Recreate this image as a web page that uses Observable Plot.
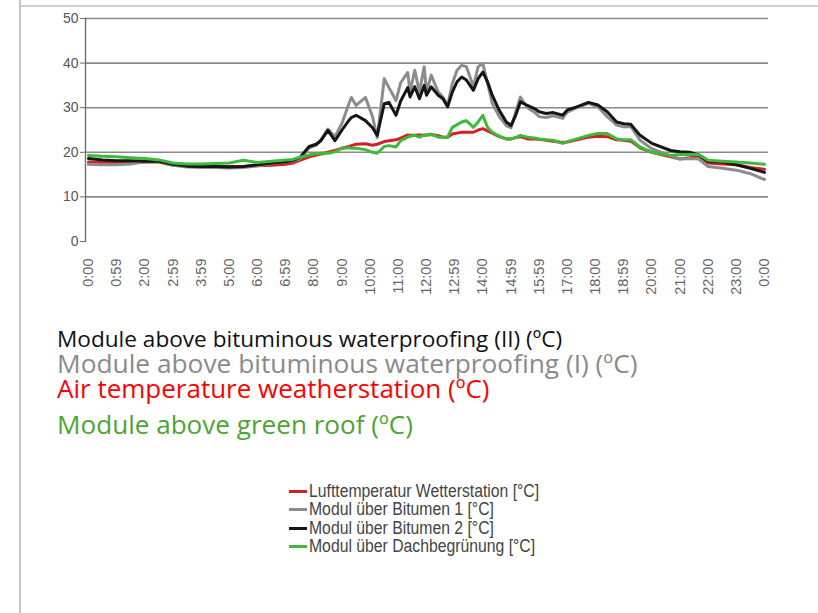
<!DOCTYPE html>
<html>
<head>
<meta charset="utf-8">
<script src="https://cdn.jsdelivr.net/npm/d3@7"></script>
<script src="https://cdn.jsdelivr.net/npm/@observablehq/plot@0.6"></script>
<style>
  html, body { margin: 0; padding: 0; background: #fff; }
  #root { position: relative; width: 818px; height: 613px; overflow: hidden; background: #fff; }
  #frameLeft { position: absolute; left: 19px; top: 0; width: 2px; height: 613px; background: #c4c4c4; }
  #frameTop { position: absolute; left: 20px; top: 5px; right: 0; height: 2px; background: #d0d0d0; }
  #chart { position: absolute; left: 0; top: 0; }
  #labels { position: absolute; left: 57px; top: 326px; font-family: "Open Sans", "Noto Sans", sans-serif; font-size: 26px; }
  #labels div { white-space: nowrap; line-height: 25px; height: 25px; }
  #legend { position: absolute; left: 289px; top: 482px; font-family: "Liberation Sans", Arial, sans-serif; font-size: 18px; color: #444; }
  #legend .row { display: flex; align-items: center; height: 18.5px; white-space: nowrap; }
  #legend .sw { width: 18px; height: 3px; margin-right: 2px; flex: none; }
  #legend .tx { display: inline-block; transform: scaleX(0.875); transform-origin: left center; }
</style>
</head>
<body>
<div id="root">
  <div id="frameLeft"></div>
  <div id="frameTop"></div>
  <div id="chart"></div>
  <div id="labels"></div>
  <div id="legend"></div>
</div>
<script>
// ---- data ----
const times = ["0:00","0:30","1:00","1:30","2:00","2:30","3:00","3:30","4:00","4:30","5:00","5:30","6:00","6:30","7:00",
  "7:15","7:30","7:50","8:05","8:15","8:30","8:45","9:00","9:15","9:20","9:30","9:50",
  "10:05","10:15","10:30","10:40","10:55","11:05","11:20","11:25","11:35","11:45","11:55",
  "12:00","12:10","12:25","12:35","12:45","12:55","13:05","13:15","13:25","13:40","13:50",
  "14:00","14:10","14:20","14:35","14:50","15:00","15:10","15:20","15:35","15:50",
  "16:00","16:15","16:30","16:50","17:00","17:20","17:45","18:05","18:25","18:45",
  "19:00","19:15","19:35","20:00","20:40","21:00","21:20","21:40","22:00","22:30","23:00","23:30","24:00"];

const airTemp = [17.8,17.7,17.7,17.7,17.8,17.8,17.1,16.9,16.9,16.8,16.8,16.8,17.0,17.1,17.3,
  17.6,18.2,19.0,19.4,19.6,20.0,20.4,20.9,21.3,21.5,21.8,21.9,
  21.6,21.8,22.4,22.6,22.8,23.2,23.9,23.8,23.8,23.9,23.8,
  23.9,24.0,23.7,23.4,23.4,24.1,24.3,24.5,24.5,24.5,25.0,
  25.3,24.8,24.3,23.5,23.0,23.0,23.3,23.5,23.0,23.0,
  22.9,22.7,22.5,22.2,22.3,22.8,23.4,23.6,23.5,22.8,
  22.7,22.5,21.0,20.0,19.0,18.5,18.8,19.2,17.6,17.4,17.2,16.6,16.2];

const bitumen1 = [17.3,17.2,17.2,17.4,17.9,17.9,17.1,16.7,16.6,16.6,16.5,16.6,17.0,17.5,17.8,
  18.1,18.5,21.0,21.6,22.8,25.2,23.5,26.5,31.0,32.3,30.5,32.3,
  28.0,23.3,36.5,34.5,31.6,35.6,37.9,33.5,38.4,33.5,39.2,
  33.5,37.3,33.5,32.4,30.5,35.4,38.4,39.5,39.2,34.7,39.2,
  39.9,35.5,31.0,28.0,26.0,25.5,29.0,32.4,30.0,29.0,
  28.0,27.8,28.2,27.6,29.0,30.0,31.0,30.2,28.0,26.1,
  25.7,25.8,22.7,20.8,19.2,18.5,18.6,18.5,16.8,16.4,16.0,15.2,13.9];

const bitumen2 = [18.6,18.3,18.1,18.1,18.0,18.0,17.3,16.9,16.8,16.8,16.7,16.8,17.2,17.6,17.9,
  18.2,18.8,21.3,21.8,22.6,24.9,22.6,25.0,27.2,27.8,28.3,27.1,
  25.5,23.8,30.9,31.2,28.3,31.5,34.5,32.4,34.7,32.0,35.0,
  32.8,34.7,32.8,32.0,30.2,33.5,35.8,36.9,36.2,33.9,36.5,
  38.0,35.8,32.8,29.4,26.8,26.0,28.3,31.3,30.5,29.8,
  29.1,28.7,28.9,28.3,29.5,30.2,31.2,30.6,29.1,26.8,
  26.4,26.3,23.8,22.0,20.4,20.1,20.0,19.4,18.0,17.8,17.2,16.4,15.5];

const greenRoof = [19.3,19.1,19.0,18.8,18.6,18.3,17.6,17.4,17.4,17.5,17.6,18.2,17.7,18.0,18.3,
  18.4,18.9,19.4,19.7,19.8,19.8,20.1,20.9,21.0,20.9,20.9,20.6,
  20.0,19.8,21.3,21.5,21.2,22.6,23.4,23.6,23.8,23.4,23.9,
  23.9,24.1,23.4,23.4,23.4,25.6,26.2,26.8,27.1,25.6,26.8,
  28.3,25.6,24.5,23.6,23.0,23.0,23.3,23.8,23.4,23.2,
  23.0,22.8,22.7,22.0,22.4,23.0,23.8,24.2,24.2,23.0,
  22.8,22.8,21.2,20.0,19.3,19.5,19.5,19.5,18.2,18.0,17.8,17.6,17.3];

const tickLabels = ["0:00","0:59","2:00","2:59","3:59","5:00","6:00","6:59","8:00","9:00","10:00","11:00",
  "12:00","12:59","14:00","14:59","15:59","17:00","18:00","18:59","20:00","21:00","22:00","23:00","0:00"];
const yTicks = [0, 10, 20, 30, 40, 50];

const seriesNames = ["Lufttemperatur Wetterstation [°C]", "Modul über Bitumen 1 [°C]", "Modul über Bitumen 2 [°C]", "Modul über Dachbegrünung [°C]"];
const seriesColors = ["#d81e22", "#8c8c8c", "#151515", "#3cba3c"];

const overlayTexts = ["Module above bituminous waterproofing (II) (ºC)", "Module above bituminous waterproofing (I) (ºC)", "Air temperature weatherstation (ºC)", "Module above green roof (ºC)"];
const overlayColors = ["#111111", "#8a8a8a", "#ff0000", "#4ca532"];
const overlaySizes = [22.6, 26.3, 26, 26.1];

// ---- build ----
const parseHour = s => { const [h, m] = s.split(":").map(Number); return h + m / 60; };
const seriesValues = [airTemp, bitumen1, bitumen2, greenRoof];
const rows = seriesNames.flatMap((name, k) => times.map((t, i) => ({ t: parseHour(t), v: seriesValues[k][i], series: name })));

const chart = Plot.plot({
  width: 818,
  height: 310,
  marginTop: 18,
  marginBottom: 69,
  marginLeft: 85,
  marginRight: 50,
  style: { fontFamily: "'Liberation Sans', Arial, sans-serif", fontSize: "14px", color: "#555", background: "transparent" },
  x: { domain: [-0.107, 24.142], label: null },
  y: { domain: [0, 50], label: null },
  color: { domain: seriesNames, range: seriesColors },
  marks: [
    Plot.ruleY(yTicks.filter(d => d > 0), { stroke: "#8a8a8a", strokeWidth: 1.6 }),
    Plot.frame({ anchor: "left", stroke: "#6e6e6e", strokeWidth: 1.4 }),
    Plot.axisY({ ticks: yTicks, tickSize: 5, tickPadding: 2, label: null, stroke: "#6e6e6e", fontSize: 14 }),
    Plot.axisX({ ticks: d3.range(tickLabels.length), tickFormat: i => tickLabels[i], tickRotate: -90, tickSize: 0, tickPadding: 17, label: null, fontSize: 14.5, fill: "#666" }),
    Plot.lineY(rows, { x: "t", y: "v", z: "series", stroke: "series", strokeWidth: 3, strokeLinejoin: "round", strokeLinecap: "round", curve: "linear" })
  ]
});
document.getElementById("chart").appendChild(chart);

const labels = document.getElementById("labels");
overlayTexts.forEach((txt, i) => {
  const d = document.createElement("div");
  d.textContent = txt;
  d.style.color = overlayColors[i];
  d.style.fontSize = overlaySizes[i] + "px";
  if (i === 3) d.style.marginTop = "11px";
  labels.appendChild(d);
});

const legend = document.getElementById("legend");
seriesNames.forEach((name, i) => {
  const r = document.createElement("div");
  r.className = "row";
  const sw = document.createElement("span");
  sw.className = "sw";
  sw.style.background = seriesColors[i];
  const tx = document.createElement("span");
  tx.className = "tx";
  tx.textContent = name;
  r.appendChild(sw);
  r.appendChild(tx);
  legend.appendChild(r);
});
</script>
</body>
</html>
